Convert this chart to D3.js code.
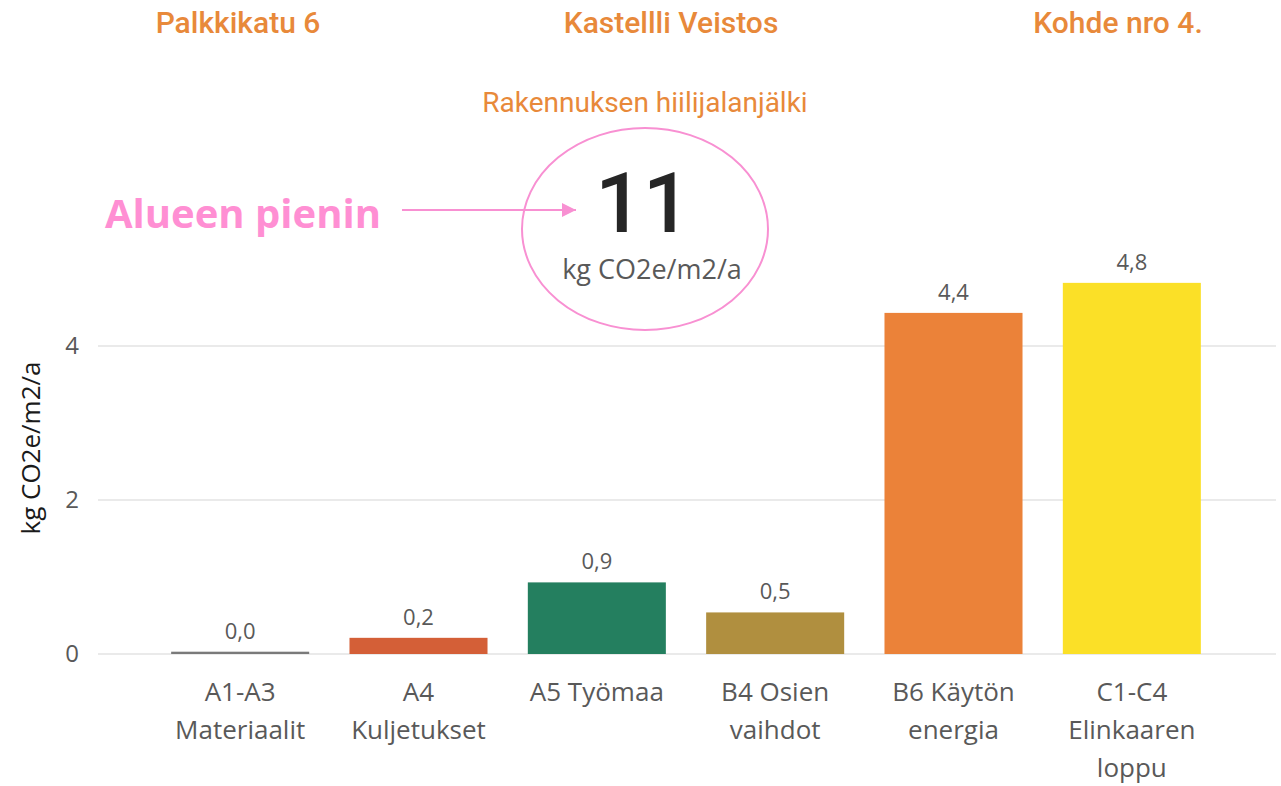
<!DOCTYPE html>
<html>
<head>
<meta charset="utf-8">
<script src="https://cdn.jsdelivr.net/npm/d3@7"></script>
<style>
  body { margin: 0; background: #fff; }
  svg { display: block; }
</style>
</head>
<body>
<div id="chart"></div>
<script>
// data
const categories = [
    ["A1-A3", "Materiaalit"],
    ["A4", "Kuljetukset"],
    ["A5 Työmaa"],
    ["B4 Osien", "vaihdot"],
    ["B6 Käytön", "energia"],
    ["C1-C4", "Elinkaaren", "loppu"]
];
const values = [0.03, 0.21, 0.93, 0.54, 4.43, 4.82];
const valueLabels = ["0,0", "0,2", "0,9", "0,5", "4,4", "4,8"];
const colors = ["#7a7a7a", "#d45f37", "#247f5f", "#b08f3f", "#eb8239", "#fbe027"];
const yTicks = [0, 2, 4];
const headers = ["Palkkikatu 6", "Kastellli Veistos", "Kohde nro 4."];
const headerX = [238, 671, 1118];

const width = 1281, height = 786;

let svg = d3.select("#chart").append("svg")
    .attr("width", width)
    .attr("height", height);

let x = d3.scaleBand()
    .domain(d3.range(categories.length))
    .range([151, 1221])
    .paddingInner(0.226)
    .paddingOuter(0.113);

let y = d3.scaleLinear().domain([0, 4]).range([654, 346]);

// gridlines
svg.append("g")
    .selectAll("line")
    .data(yTicks)
    .join("line")
    .attr("x1", 98).attr("x2", 1276)
    .attr("y1", d => y(d)).attr("y2", d => y(d))
    .attr("stroke", "#e3e3e3")
    .attr("stroke-width", 1.5);

// y axis labels
let yAxis = svg.append("g")
    .attr("transform", "translate(79,0)")
    .call(d3.axisLeft(y).tickValues(yTicks).tickFormat(d3.format("d")).tickSize(0).tickPadding(0));
yAxis.select(".domain").remove();
yAxis.selectAll("text")
    .attr("font-family", "Open Sans")
    .attr("font-size", 24)
    .attr("fill", "#595959");

svg.append("text")
    .attr("transform", "translate(40,448) rotate(-90)")
    .attr("text-anchor", "middle")
    .attr("font-family", "Open Sans")
    .attr("font-size", 26)
    .attr("fill", "#1a1a1a")
    .text("kg CO2e/m2/a");

// bars
svg.append("g")
    .selectAll("rect")
    .data(values)
    .join("rect")
    .attr("x", (d, i) => x(i))
    .attr("width", x.bandwidth())
    .attr("y", d => y(d))
    .attr("height", d => y(0) - y(d))
    .attr("fill", (d, i) => colors[i]);

// value labels
svg.append("g")
    .selectAll("text")
    .data(values)
    .join("text")
    .attr("x", (d, i) => x(i) + x.bandwidth() / 2)
    .attr("y", d => y(d) - 13)
    .attr("text-anchor", "middle")
    .attr("font-family", "Open Sans")
    .attr("font-size", 22)
    .attr("fill", "#595959")
    .text((d, i) => valueLabels[i]);

// category labels
let cat = svg.append("g")
    .selectAll("text")
    .data(categories)
    .join("text")
    .attr("x", (d, i) => x(i) + x.bandwidth() / 2)
    .attr("y", 701)
    .attr("text-anchor", "middle")
    .attr("font-family", "Open Sans")
    .attr("font-size", 26)
    .attr("fill", "#595959");
cat.selectAll("tspan")
    .data(d => d)
    .join("tspan")
    .attr("x", function() { return this.parentNode.getAttribute("x"); })
    .attr("dy", (d, i) => i == 0 ? 0 : 38)
    .text(d => d);

// headers
svg.append("g")
    .selectAll("text")
    .data(headers)
    .join("text")
    .attr("x", (d, i) => headerX[i])
    .attr("y", 33)
    .attr("text-anchor", "middle")
    .attr("font-family", "Roboto")
    .attr("font-size", 30)
    .attr("font-weight", 500)
    .attr("fill", "#e8893a")
    .text(d => d);

svg.append("text")
    .attr("x", 645).attr("y", 112)
    .attr("text-anchor", "middle")
    .attr("font-family", "Roboto")
    .attr("font-size", 28)
    .attr("fill", "#e8893a")
    .text("Rakennuksen hiilijalanjälki");

// total
svg.append("text")
    .attr("x", 643).attr("y", 232)
    .attr("text-anchor", "middle")
    .attr("font-family", "Roboto")
    .attr("font-size", 84)
    .attr("font-weight", 500)
    .attr("fill", "#262626")
    .text("11");

svg.append("text")
    .attr("x", 652).attr("y", 279)
    .attr("text-anchor", "middle")
    .attr("font-family", "Open Sans")
    .attr("font-size", 27)
    .attr("fill", "#595959")
    .text("kg CO2e/m2/a");

svg.append("ellipse")
    .attr("cx", 645).attr("cy", 229)
    .attr("rx", 123).attr("ry", 101)
    .attr("fill", "none")
    .attr("stroke", "#f890d2")
    .attr("stroke-width", 2);

// annotation
svg.append("defs").append("marker")
    .attr("id", "arrow")
    .attr("viewBox", "0 0 10 10")
    .attr("refX", 10).attr("refY", 5)
    .attr("markerWidth", 7).attr("markerHeight", 7)
    .attr("orient", "auto")
    .append("path")
    .attr("d", "M0,0 L10,5 L0,10 Z")
    .attr("fill", "#f890d2");

svg.append("line")
    .attr("x1", 402).attr("x2", 576)
    .attr("y1", 210).attr("y2", 210)
    .attr("stroke", "#f890d2")
    .attr("stroke-width", 2)
    .attr("marker-end", "url(#arrow)");

svg.append("text")
    .attr("x", 105).attr("y", 228)
    .attr("font-family", "Open Sans")
    .attr("font-size", 40)
    .attr("font-weight", 700)
    .attr("fill", "#ff8fd3")
    .text("Alueen pienin");
</script>
</body>
</html>
